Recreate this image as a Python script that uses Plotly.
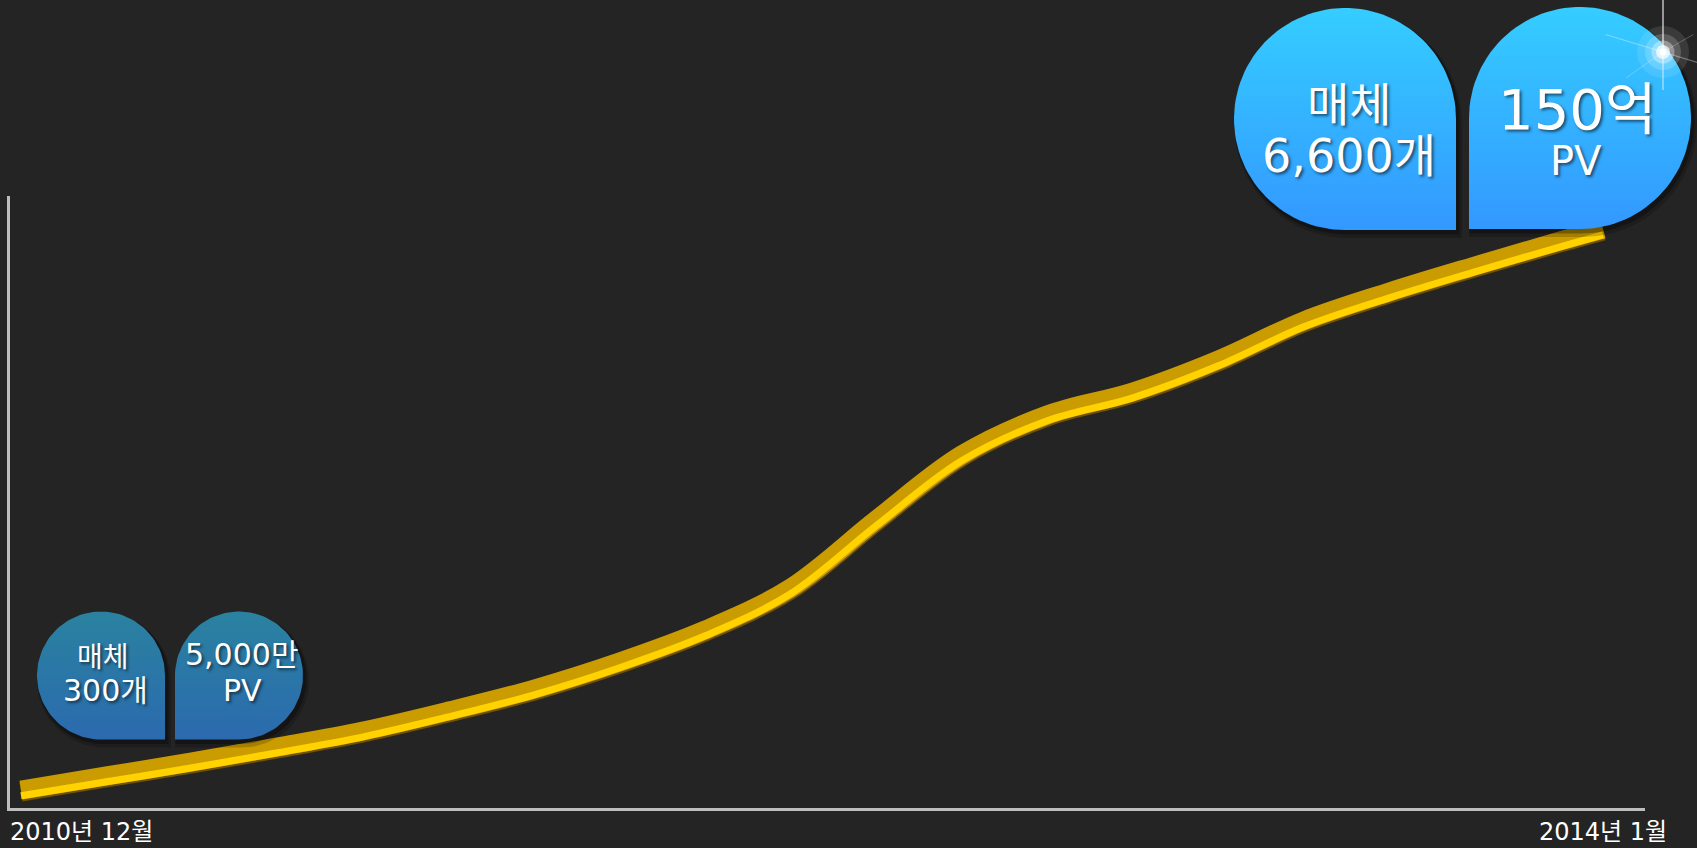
import numpy as np
import plotly.graph_objects as go

# ---------------- data ----------------
months = [0, 2, 4, 6, 8, 10, 12, 14, 16, 18, 20, 22, 24, 26, 28, 30, 32, 34, 36, 37]
growth = [2.94, 5.23, 7.52, 9.97, 12.58, 15.85, 19.44, 23.86, 29.08, 35.95, 47.06, 57.68,
          64.22, 67.97, 73.20, 79.58, 84.31, 88.56, 92.65, 94.61]
start_label = "2010년 12월"
end_label = "2014년 1월"
bubble_small = [("매체", "300개"), ("5,000만", "PV")]
bubble_big = [("매체", "6,600개"), ("150억", "PV")]

W, H = 1697, 848
BG = "#242424"
FONT = "DejaVu Sans, Noto Sans CJK KR, sans-serif"
KFONT = "Noto Sans CJK KR, sans-serif"

fig = go.Figure()

# ------------- ribbon line (3 stacked strokes, one per overlaid axis) -------------
px_per_unit = 612 / 100.0
for yax, color, width in [("y", "#6e5200", 19), ("y3", "#CB9C00", 19), ("y4", "#FFD200", 7)]:
    fig.add_trace(go.Scatter(
        x=months, y=growth, mode="lines", xaxis="x", yaxis=yax,
        line=dict(color=color, width=width, shape="spline", smoothing=1.0),
        hoverinfo="skip", showlegend=False))

# ------------- decorative bubbles (pixel overlay) -------------
def teardrop(cx, cy, r, corner, n=90):
    if corner == "br":
        th = np.linspace(0, 270, n)
        xs = list(cx + r * np.cos(np.radians(th)))
        ys = list(cy - r * np.sin(np.radians(th)))
        xs.append(cx + r); ys.append(cy + r)
    else:
        th = np.linspace(-90, 180, n)
        xs = list(cx + r * np.cos(np.radians(th)))
        ys = list(cy - r * np.sin(np.radians(th)))
        xs.append(cx - r); ys.append(cy + r)
    xs.append(xs[0]); ys.append(ys[0])
    return xs, ys

bubbles = [
    (101, 675.5, 64, "br", "#2A82A0", "#2B6AAE"),
    (239, 675.5, 64, "bl", "#2A82A0", "#2B6AAE"),
    (1345, 119, 111, "br", "#35CDFF", "#3398FF"),
    (1580, 118, 111, "bl", "#35CDFF", "#3398FF"),
]
for cx, cy, r, corner, ctop, cbot in bubbles:
    for grow, dx, dy, op in [(6, 3, 5, 0.18), (3, 2, 3, 0.3)]:
        sx, sy = teardrop(cx + dx, cy + dy, r + grow * 0.5, corner)
        fig.add_trace(go.Scatter(x=sx, y=sy, xaxis="x2", yaxis="y2", mode="lines",
                                 fill="toself", fillcolor=f"rgba(0,0,0,{op})",
                                 line=dict(width=0, color="rgba(0,0,0,0)"),
                                 hoverinfo="skip", showlegend=False))
    bx, by = teardrop(cx, cy, r, corner)
    fig.add_trace(go.Scatter(
        x=bx, y=by, xaxis="x2", yaxis="y2", mode="lines", fill="toself",
        fillgradient=dict(type="vertical", start=cy - r, stop=cy + r,
                          colorscale=[[0, ctop], [1, cbot]]),
        line=dict(width=0, color="rgba(0,0,0,0)"),
        hoverinfo="skip", showlegend=False))

# ------------- sparkle -------------
sx0, sy0 = 1663, 52
for ang, ln, op, w in [(90, 52, 0.7, 1.5), (270, 38, 0.5, 1.5), (163, 60, 0.35, 1.2), (343, 38, 0.35, 1.2),
                       (30, 35, 0.25, 1), (215, 45, 0.25, 1)]:
    a = np.radians(ang)
    fig.add_trace(go.Scatter(x=[sx0, sx0 + ln * np.cos(a)], y=[sy0, sy0 - ln * np.sin(a)],
                             xaxis="x2", yaxis="y2", mode="lines",
                             line=dict(color=f"rgba(255,255,255,{op})", width=w),
                             hoverinfo="skip", showlegend=False))
for size, op in [(52, 0.10), (36, 0.18), (23, 0.35), (14, 0.7), (7, 1.0)]:
    fig.add_trace(go.Scatter(x=[sx0], y=[sy0], xaxis="x2", yaxis="y2", mode="markers",
                             marker=dict(size=size, color=f"rgba(255,255,255,{op})", line=dict(width=0)),
                             hoverinfo="skip", showlegend=False))

# ------------- text -------------
shadow = "2px 2px 3px rgba(0,0,0,0.55)"
def txt(x, y, s, size, family=FONT):
    fig.add_annotation(x=x, y=y, xref="x2", yref="y2", text=s, showarrow=False,
                       xanchor="center", yanchor="middle", align="center",
                       font=dict(family=family, size=size, color="white", shadow=shadow))

txt(103, 655, bubble_small[0][0], 28, KFONT)
txt(105, 690, bubble_small[0][1], 30)
txt(241, 654, bubble_small[1][0], 30)
txt(242, 690, bubble_small[1][1], 30)
txt(1349, 101, bubble_big[0][0], 46, KFONT)
txt(1349, 156, bubble_big[0][1], 46)
txt(1577, 109, bubble_big[1][0], 56)
txt(1576, 161, bubble_big[1][1], 40)

fig.add_annotation(x=9, y=832, xref="x2", yref="y2", text=start_label, showarrow=False,
                   xanchor="left", yanchor="middle", borderpad=0,
                   font=dict(family=FONT, size=24, color="white"))
fig.add_annotation(x=months[-1], y=832, xref="x", yref="y2", text=end_label, showarrow=False,
                   xanchor="center", yanchor="middle", borderpad=0,
                   font=dict(family=FONT, size=24, color="white"))

# ------------- layout -------------
x_left = -(21 - 10) / ((1603 - 21) / 37)
x_right = 37 + (1645 - 1603) / ((1603 - 21) / 37)
shift_edge = 2.0 / px_per_unit
shift_hi = 5.8 / px_per_unit

fig.update_layout(
    width=W, height=H, autosize=False,
    margin=dict(l=0, r=0, t=0, b=0, pad=0),
    paper_bgcolor=BG, plot_bgcolor="rgba(0,0,0,0)",
    showlegend=False,
    xaxis=dict(domain=[10 / W, 1645 / W], range=[x_left, x_right], showgrid=False, zeroline=False,
               showticklabels=False, ticks="", showline=True, linecolor="#BDBDBD", linewidth=3,
               anchor="y", fixedrange=True),
    yaxis=dict(domain=[40 / H, 652 / H], range=[shift_edge, 100 + shift_edge], showgrid=False,
               zeroline=False, showticklabels=False, ticks="", showline=True, linecolor="#BDBDBD",
               linewidth=3, anchor="x", fixedrange=True),
    yaxis3=dict(overlaying="y", anchor="x", range=[0, 100], visible=False, fixedrange=True),
    yaxis4=dict(overlaying="y", anchor="x", range=[shift_hi, 100 + shift_hi], visible=False,
                fixedrange=True),
    xaxis2=dict(domain=[0, 1], range=[0, W], visible=False, anchor="y2", fixedrange=True),
    yaxis2=dict(domain=[0, 1], range=[H, 0], visible=False, anchor="x2", fixedrange=True),
)

fig.write_html("out.html", config={"displayModeBar": False},
               post_script="document.body.style.margin='0';document.body.style.overflow='hidden';")
